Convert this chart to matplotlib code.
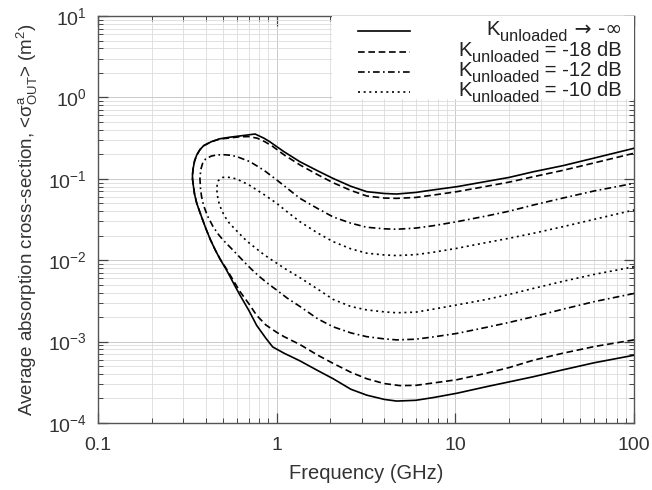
import matplotlib
matplotlib.use('Agg')
import matplotlib.pyplot as plt
from matplotlib.patches import Rectangle
from matplotlib.ticker import LogLocator, NullFormatter, FixedLocator, FixedFormatter

plt.rcParams['font.family'] = ['Liberation Sans', 'DejaVu Sans']
plt.rcParams['mathtext.fontset'] = 'custom'
plt.rcParams['mathtext.rm'] = 'Liberation Sans'
plt.rcParams['mathtext.it'] = 'Liberation Sans:italic'
plt.rcParams['mathtext.bf'] = 'Liberation Sans:bold'
plt.rcParams['mathtext.sf'] = 'Liberation Sans'

# ---------------- data (frequency in GHz, cross-section in m^2) ----------------
# K_unloaded -> -inf (solid)
inf_up_f = [0.338, 0.341, 0.347, 0.357, 0.372, 0.39, 0.43, 0.48, 0.55, 0.65, 0.757, 0.85, 0.92, 1.1, 1.35,
            1.7, 2.07, 2.6, 3.19, 4.0, 4.69, 6.0, 7.5, 10.2, 15, 20, 27.3, 40, 60, 100]
inf_up_v = [0.112, 0.135, 0.165, 0.196, 0.228, 0.255, 0.285, 0.31, 0.325, 0.34, 0.355, 0.315, 0.283, 0.215, 0.162,
            0.125, 0.101, 0.081, 0.0695, 0.066, 0.065, 0.068, 0.073, 0.080, 0.093, 0.104, 0.122, 0.145, 0.18, 0.237]
inf_lo_f = [0.338, 0.341, 0.347, 0.357, 0.37, 0.38, 0.40, 0.425, 0.452, 0.482, 0.52, 0.548, 0.585, 0.624, 0.7,
            0.773, 0.87, 0.95, 1.1, 1.35, 1.7, 2.07, 2.6, 3.19, 4.0, 4.69, 6.0, 7.5, 10.2, 15, 20, 27.3, 40, 60, 100]
inf_lo_v = [0.10, 0.085, 0.065, 0.05, 0.04, 0.034, 0.025, 0.018, 0.0135, 0.0103, 0.0078, 0.0063, 0.0048, 0.0037, 0.0024,
            0.00158, 0.00110, 0.00086, 0.00072, 0.00058, 0.00044, 0.00035, 0.00026, 0.00022, 0.000195, 0.000186,
            0.00019, 0.000205, 0.000232, 0.00028, 0.00032, 0.00037, 0.00045, 0.00055, 0.00068]

# K_unloaded = -18 dB (dashed)
k18_up_f = [0.338, 0.341, 0.347, 0.357, 0.372, 0.39, 0.43, 0.48, 0.55, 0.62, 0.7, 0.78, 0.86, 0.95, 1.1, 1.35,
            1.7, 2.07, 2.6, 3.19, 4.0, 4.69, 6.0, 7.5, 10.2, 15, 20, 27.3, 40, 60, 100]
k18_up_v = [0.112, 0.135, 0.165, 0.196, 0.228, 0.255, 0.285, 0.308, 0.318, 0.328, 0.33, 0.315, 0.285, 0.25, 0.197, 0.148,
            0.112, 0.0895, 0.072, 0.0615, 0.058, 0.0575, 0.059, 0.063, 0.0695, 0.081, 0.091, 0.106, 0.127, 0.157, 0.206]
k18_lo_f = [0.338, 0.341, 0.347, 0.357, 0.37, 0.38, 0.40, 0.425, 0.452, 0.482, 0.52, 0.548, 0.585, 0.624, 0.7,
            0.773, 0.87, 1.0, 1.1, 1.35, 1.7, 2.07, 2.6, 3.19, 4.0, 4.9, 6.0, 7.5, 10.2, 15, 20, 27.3, 40, 60, 100]
k18_lo_v = [0.10, 0.085, 0.065, 0.05, 0.04, 0.034, 0.025, 0.018, 0.0135, 0.0104, 0.0080, 0.0066, 0.0052, 0.0041, 0.0029,
            0.0021, 0.0016, 0.0013, 0.00115, 0.00092, 0.00068, 0.00054, 0.00042, 0.00035, 0.000305, 0.000288,
            0.00029, 0.00031, 0.00034, 0.00041, 0.00048, 0.00059, 0.00072, 0.00087, 0.00105]

# K_unloaded = -12 dB (dash-dot)
k12_up_f = [0.372, 0.376, 0.385, 0.40, 0.43, 0.46, 0.5, 0.55, 0.6, 0.71, 0.85, 1.0, 1.35, 1.7, 2.07, 2.6,
            3.19, 4.0, 4.69, 6.0, 7.5, 10.2, 15, 20, 27.3, 40, 60, 100]
k12_up_v = [0.10, 0.13, 0.155, 0.175, 0.19, 0.196, 0.198, 0.195, 0.187, 0.162, 0.127, 0.097, 0.0575, 0.043, 0.034, 0.0285,
            0.0254, 0.0243, 0.024, 0.0248, 0.0265, 0.0297, 0.035, 0.040, 0.0476, 0.058, 0.071, 0.088]
k12_lo_f = [0.372, 0.375, 0.38, 0.39, 0.41, 0.44, 0.47, 0.5, 0.548, 0.6, 0.65, 0.72, 0.8, 0.9, 1.0, 1.15, 1.35,
            1.7, 2.07, 2.6, 3.19, 4.0, 4.69, 6.0, 7.5, 10.2, 15, 20, 27.3, 40, 60, 100]
k12_lo_v = [0.10, 0.075, 0.06, 0.047, 0.035, 0.026, 0.021, 0.0178, 0.0145, 0.0118, 0.0098, 0.0078, 0.0063, 0.0051, 0.0043,
            0.0034, 0.0027, 0.0019, 0.00152, 0.00128, 0.00115, 0.00108, 0.00105, 0.00107, 0.00114, 0.00126, 0.0015,
            0.00172, 0.00202, 0.0025, 0.0031, 0.0039]

# K_unloaded = -10 dB (dotted)
k10_up_f = [0.462, 0.465, 0.472, 0.485, 0.5, 0.525, 0.56, 0.6, 0.7, 0.85, 1.0, 1.15, 1.35, 1.7, 2.07, 2.6,
            3.19, 4.0, 4.69, 6.0, 7.5, 10.2, 15, 20, 27.3, 40, 60, 100]
k10_up_v = [0.075, 0.085, 0.095, 0.101, 0.104, 0.105, 0.103, 0.099, 0.084, 0.064, 0.050, 0.039, 0.0297, 0.0215, 0.0169,
            0.0138, 0.0122, 0.0116, 0.0114, 0.0117, 0.0125, 0.014, 0.0165, 0.0186, 0.0214, 0.0258, 0.0318, 0.0414]
k10_lo_f = [0.462, 0.466, 0.475, 0.49, 0.51, 0.54, 0.58, 0.624, 0.68, 0.75, 0.82, 0.9, 1.0, 1.1, 1.35, 1.7, 2.07,
            2.6, 3.19, 4.0, 4.69, 6.0, 7.5, 10.2, 15, 20, 27.3, 40, 60, 100]
k10_lo_v = [0.075, 0.062, 0.051, 0.042, 0.035, 0.029, 0.0245, 0.0208, 0.0172, 0.0145, 0.0124, 0.0107, 0.0092, 0.0080,
            0.0061, 0.0044, 0.0033, 0.0027, 0.00245, 0.00232, 0.00226, 0.0023, 0.0025, 0.00282, 0.0033, 0.0038, 0.0045,
            0.0055, 0.0067, 0.0083]

# legend labels: "K" + subscript "unloaded" + tail
label_main = 'K'
label_sub = 'unloaded'
label_tails = [' → -∞', ' = -18 dB', ' = -12 dB', ' = -10 dB']
tail_families = [['DejaVu Sans'], ['Liberation Sans'], ['Liberation Sans'], ['Liberation Sans']]
x_tick_vals = [0.1, 1, 10, 100]
x_tick_text = ['0.1', '1', '10', '100']

styles = ['-', (0, (4.0, 2.2)), (0, (4.0, 2.0, 1.0, 2.0)), (0, (1.2, 2.2))]
series = [
    (inf_lo_f, inf_lo_v, inf_up_f, inf_up_v),
    (k18_lo_f, k18_lo_v, k18_up_f, k18_up_v),
    (k12_lo_f, k12_lo_v, k12_up_f, k12_up_v),
    (k10_lo_f, k10_lo_v, k10_up_f, k10_up_v),
]

fig = plt.figure(figsize=(6.52, 4.9), dpi=100)
ax = fig.add_axes([98 / 652, 67 / 490, 536 / 652, 407 / 490])

for (lf, lv, uf, uv), ls, tail in zip(series, styles, label_tails):
    f_path = list(reversed(lf)) + list(uf)
    v_path = list(reversed(lv)) + list(uv)
    ax.plot(f_path, v_path, color='black', lw=1.2, linestyle=ls, label='K_unloaded' + tail, zorder=3)

ax.set_xscale('log')
ax.set_yscale('log')
ax.set_xlim(0.1, 100)
ax.set_ylim(1e-4, 10)

ax.xaxis.set_major_locator(FixedLocator(x_tick_vals))
ax.xaxis.set_major_formatter(FixedFormatter(x_tick_text))
ax.xaxis.set_minor_locator(LogLocator(base=10, subs=range(2, 10)))
ax.xaxis.set_minor_formatter(NullFormatter())
ax.yaxis.set_major_locator(LogLocator(base=10, numticks=10))
ax.yaxis.set_minor_locator(LogLocator(base=10, subs=range(2, 10), numticks=20))
ax.yaxis.set_minor_formatter(NullFormatter())

ax.tick_params(which='both', direction='in', top=True, right=True, colors='#444444', labelcolor='#333333')
ax.tick_params(which='major', length=7.5, width=0.9, labelsize=14, pad=10)
ax.tick_params(which='minor', length=3.8, width=0.7)
ax.tick_params(axis='y', which='major', pad=8)
for s in ax.spines.values():
    s.set_color('#555555')
    s.set_linewidth(1.0)

ax.grid(which='major', color='#cacaca', lw=0.7)
ax.grid(which='minor', color='#dcdcdc', lw=0.6)
ax.set_axisbelow(True)

ax.set_xlabel('Frequency (GHz)', fontsize=14.5, color='#333333', labelpad=7)
ax.set_ylabel(r'Average absorption cross-section, <$\mathregular{σ^{a}_{OUT}}$> (m$^{\mathregular{2}}$)',
              fontsize=13.5, color='#333333', labelpad=6)

# key (drawn in axes fraction coordinates, right-aligned labels)
ax.add_patch(Rectangle((0.437, 0.795), 0.563, 0.205, transform=ax.transAxes, facecolor='white',
                       edgecolor='none', zorder=4))
row_line_y = [0.963, 0.912, 0.863, 0.814]
row_text_y = [0.953, 0.902, 0.853, 0.804]
renderer = fig.canvas.get_renderer()
inv = ax.transAxes.inverted()
for ls, tail, fam, ly, ty in zip(styles, label_tails, tail_families, row_line_y, row_text_y):
    ax.plot([0.485, 0.582], [ly, ly], transform=ax.transAxes, color='black', lw=1.2, linestyle=ls, zorder=5)
    t_tail = ax.text(0.9776, ty, tail, transform=ax.transAxes, ha='right', va='baseline', fontsize=14.6,
                     family=fam + ['DejaVu Sans'], color='#222222', zorder=6)
    x_left = inv.transform((t_tail.get_window_extent(renderer).x0, 0))[0]
    t_sub = ax.text(x_left, ty - 0.015, label_sub, transform=ax.transAxes, ha='right', va='baseline',
                    fontsize=11.8, color='#222222', zorder=6)
    x_left2 = inv.transform((t_sub.get_window_extent(renderer).x0, 0))[0]
    ax.text(x_left2, ty, label_main, transform=ax.transAxes, ha='right', va='baseline', fontsize=14.6,
            color='#222222', zorder=6)

fig.savefig('out.png', dpi=100)
